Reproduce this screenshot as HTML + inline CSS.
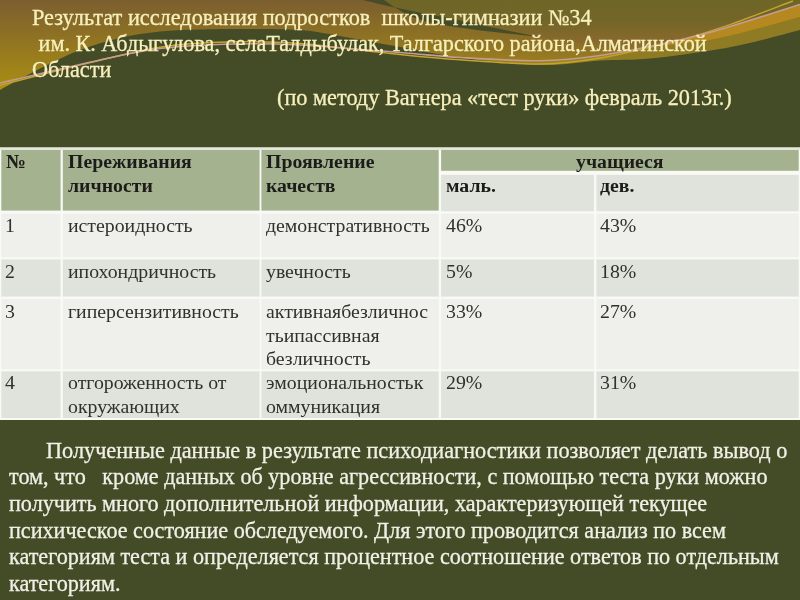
<!DOCTYPE html>
<html><head><meta charset="utf-8">
<style>
html,body{margin:0;padding:0;}
body{width:800px;height:600px;overflow:hidden;position:relative;background:#444b27;font-family:"Liberation Serif",serif;}
svg.bg{position:absolute;left:0;top:0;}
.t{position:absolute;white-space:pre;line-height:1;will-change:transform;}
.title{color:#f7f0bc;font-size:22.25px;-webkit-text-stroke:0.3px #f7f0bc;}
.para{color:#f0f0e6;font-size:22.15px;-webkit-text-stroke:0.3px #f0f0e6;}
.cell{position:absolute;}
.tx{position:absolute;white-space:pre;font-size:19.8px;line-height:1;color:#30302d;will-change:transform;}
.b{font-weight:bold;color:#1c1c1a;}
</style></head>
<body>
<svg class="bg" width="800" height="600" viewBox="0 0 800 600">
<defs>
<linearGradient id="gL" x1="0" y1="0" x2="0" y2="90" gradientUnits="userSpaceOnUse">
<stop offset="0" stop-color="#7b5e2f"/>
<stop offset="1" stop-color="#aa8f12"/>
</linearGradient>
<linearGradient id="gR" x1="0" y1="0" x2="0" y2="65" gradientUnits="userSpaceOnUse">
<stop offset="0" stop-color="#6e6628"/>
<stop offset="0.32" stop-color="#736528"/>
<stop offset="0.62" stop-color="#88692c"/>
<stop offset="0.8" stop-color="#90722a"/>
<stop offset="1" stop-color="#9c8020"/>
</linearGradient>
<linearGradient id="fade" x1="420" y1="0" x2="680" y2="0" gradientUnits="userSpaceOnUse">
<stop offset="0" stop-color="#fff"/>
<stop offset="1" stop-color="#000"/>
</linearGradient>
<mask id="m1"><rect x="0" y="0" width="800" height="120" fill="url(#fade)"/></mask>
</defs>
<rect x="0" y="0" width="800" height="120" fill="url(#gR)"/>
<path d="M0,0 L371,0 C400,12 470,28 545,38 C600,46 650,55 700,62 L700,120 L0,120 Z" fill="url(#gL)" mask="url(#m1)"/>
<path d="M363,0 L384,0 C400,12 415,19 430,22.7 C460,28 495,32.5 540,37 C500,30 470,22 430,14.6 C400,9 380,4 363,0 Z" fill="#454c27"/>
<path d="M540,60.8 C550.0,59.9 576.7,59.0 600,55.5 C623.3,52.0 658.3,44.8 680,40 C701.7,35.2 710.0,32.4 730,26.5 C750.0,20.6 788.3,8.1 800,4.4 L800,30 C793.3,31.8 773.3,37.3 760,40.5 C746.7,43.7 738.3,46.0 720,49 C701.7,52.0 670.0,56.6 650,58.5 C630.0,60.4 618.3,59.4 600,60.5 C581.7,61.6 550.0,64.2 540,65 Z" fill="#9a8222"/>
<path d="M655,46.5 C659.2,45.4 667.5,43.3 680,40 C692.5,36.7 710.0,32.4 730,26.5 C750.0,20.6 788.3,8.1 800,4.4 L800,17 C793.3,18.8 775.0,24.2 760,28 C745.0,31.8 727.5,36.9 710,40 C692.5,43.1 664.2,45.4 655,46.5 Z" fill="#b5891f"/>
<path d="M655,46.5 C664.2,45.4 692.5,43.1 710,40 C727.5,36.9 745.0,31.8 760,28 C775.0,24.2 793.3,18.8 800,17 L800,30 C793.3,31.8 773.3,37.3 760,40.5 C746.7,43.7 738.3,46.0 720,49 C701.7,52.0 670.0,56.6 650,58.5 C630.0,60.4 608.3,60.2 600,60.5 Z" fill="#8e7b23"/>
<path d="M0,90 C6.7,86.4 26.7,75.3 40,68.6 C53.3,61.9 66.7,55.1 80,50 C93.3,44.9 106.7,41.1 120,38 C133.3,34.9 146.7,32.9 160,31.5 C173.3,30.1 186.7,29.9 200,29.5 C213.3,29.1 223.3,28.9 240,29 C256.7,29.1 283.3,28.8 300,30 C316.7,31.2 323.3,33.2 340,36 C356.7,38.8 380.0,43.4 400,47 C420.0,50.6 436.7,54.5 460,57.5 C483.3,60.5 516.7,64.5 540,65 C563.3,65.5 581.7,61.6 600,60.5 C618.3,59.4 630.0,60.4 650,58.5 C670.0,56.6 701.7,52.0 720,49 C738.3,46.0 746.7,43.7 760,40.5 C773.3,37.3 793.3,31.8 800,30 L800,600 L0,600 Z" fill="#444b27"/>
<path d="M0,85.5 C10.0,82.9 33.3,76.4 60,70 C86.7,63.6 130.8,51.9 160,47.2 C189.2,42.5 211.7,42.4 235,41.8 C258.3,41.2 282.5,42.5 300,43.5 C317.5,44.5 323.3,46.0 340,47.8 C356.7,49.6 380.0,52.5 400,54.5 C420.0,56.5 436.7,58.2 460,59.8 C483.3,61.4 516.7,64.3 540,64 C563.3,63.7 575.8,62.2 600,58 C624.2,53.8 663.3,44.2 685,38.6 C706.7,33.0 712.0,30.9 730,24.6 C748.0,18.3 782.5,4.9 793,1" fill="none" stroke="#c4a42a" stroke-width="1.4"/>
<path d="M0,83 C16.7,79.2 73.3,65.8 100,60 C126.7,54.2 137.5,51.2 160,48.5 C182.5,45.8 211.7,44.6 235,44 C258.3,43.4 272.5,43.6 300,45 C327.5,46.4 373.3,50.4 400,52.5 C426.7,54.6 436.7,56.1 460,57.5 C483.3,58.9 516.7,61.1 540,60.8 C563.3,60.5 576.7,59.0 600,55.5 C623.3,52.0 658.3,44.8 680,40 C701.7,35.2 710.0,32.4 730,26.5 C750.0,20.6 788.3,8.1 800,4.4" fill="none" stroke="#c59c94" stroke-width="1.6"/>
</svg>

<div class="t title" style="left:32px;top:6.6px;font-size:22.3px;">Результат исследования подростков  школы-гимназии №34</div>
<div class="t title" style="left:32.5px;top:32.7px;font-size:22.17px;"> им. К. Абдыгулова, селаТалдыбулак, Талгарского района,Алматинской</div>
<div class="t title" style="left:32px;top:58.75px;">Области</div>
<div class="t title" style="left:276.5px;top:86.5px;">(по методу Вагнера «тест руки» февраль 2013г.)</div>

<!-- table -->
<svg class="bg" width="800" height="600" viewBox="0 0 800 600">
<rect x="0" y="147.5" width="800" height="272.5" fill="#f9faf6"/>
<rect x="0" y="147.5" width="800" height="2.5" fill="#e4e8da"/>
<rect x="1.3" y="150" width="59.3" height="60.6" fill="#a5b28f"/>
<rect x="62.8" y="150" width="196.8" height="60.6" fill="#a5b28f"/>
<rect x="261.4" y="150" width="177.3" height="60.6" fill="#a5b28f"/>
<rect x="441.1" y="150" width="357.6" height="20.8" fill="#a5b28f"/>
<rect x="441.1" y="174.8" width="152.8" height="36.5" fill="#dfe3db"/>
<rect x="596.4" y="174.8" width="202.3" height="36.5" fill="#dfe3db"/>
<rect x="1.3" y="213.6" width="59.3" height="43.7" fill="#eff0ec"/>
<rect x="62.8" y="213.6" width="196.8" height="43.7" fill="#eff0ec"/>
<rect x="261.4" y="213.6" width="177.3" height="43.7" fill="#eff0ec"/>
<rect x="441.1" y="213.6" width="152.8" height="43.7" fill="#eff0ec"/>
<rect x="596.4" y="213.6" width="202.3" height="43.7" fill="#eff0ec"/>
<rect x="1.3" y="259.4" width="59.3" height="37.2" fill="#dfe3db"/>
<rect x="62.8" y="259.4" width="196.8" height="37.2" fill="#dfe3db"/>
<rect x="261.4" y="259.4" width="177.3" height="37.2" fill="#dfe3db"/>
<rect x="441.1" y="259.4" width="152.8" height="37.2" fill="#dfe3db"/>
<rect x="596.4" y="259.4" width="202.3" height="37.2" fill="#dfe3db"/>
<rect x="1.3" y="299" width="59.3" height="70.3" fill="#eff0ec"/>
<rect x="62.8" y="299" width="196.8" height="70.3" fill="#eff0ec"/>
<rect x="261.4" y="299" width="177.3" height="70.3" fill="#eff0ec"/>
<rect x="441.1" y="299" width="152.8" height="70.3" fill="#eff0ec"/>
<rect x="596.4" y="299" width="202.3" height="70.3" fill="#eff0ec"/>
<rect x="1.3" y="371.3" width="59.3" height="46.7" fill="#dfe3db"/>
<rect x="62.8" y="371.3" width="196.8" height="46.7" fill="#dfe3db"/>
<rect x="261.4" y="371.3" width="177.3" height="46.7" fill="#dfe3db"/>
<rect x="441.1" y="371.3" width="152.8" height="46.7" fill="#dfe3db"/>
<rect x="596.4" y="371.3" width="202.3" height="46.7" fill="#dfe3db"/>
</svg>
<!-- table text: baseline = top + ~17.6 (ascent .891*19.8) -->
<div class="tx b" style="left:5.7px;top:151.5px;">№</div>
<div class="tx b" style="left:67.8px;top:151.5px;">Переживания</div>
<div class="tx b" style="left:67.8px;top:175.5px;">личности</div>
<div class="tx b" style="left:266.3px;top:151.5px;">Проявление</div>
<div class="tx b" style="left:266.3px;top:175.5px;">качеств</div>
<div class="tx b" style="left:576px;top:151.5px;">учащиеся</div>
<div class="tx b" style="left:446.3px;top:175.5px;">маль.</div>
<div class="tx b" style="left:600.3px;top:175.5px;">дев.</div>

<div class="tx" style="left:5.3px;top:216px;">1</div>
<div class="tx" style="left:67.8px;top:216px;">истероидность</div>
<div class="tx" style="left:266.3px;top:216px;">демонстративность</div>
<div class="tx" style="left:446.3px;top:216px;">46%</div>
<div class="tx" style="left:600.3px;top:216px;">43%</div>

<div class="tx" style="left:5.3px;top:262px;">2</div>
<div class="tx" style="left:67.8px;top:262px;">ипохондричность</div>
<div class="tx" style="left:266.3px;top:262px;">увечность</div>
<div class="tx" style="left:446.3px;top:262px;">5%</div>
<div class="tx" style="left:600.3px;top:262px;">18%</div>

<div class="tx" style="left:5.3px;top:302px;">3</div>
<div class="tx" style="left:67.8px;top:302px;">гиперсензитивность</div>
<div class="tx" style="left:266.3px;top:302px;">активнаябезличнос</div>
<div class="tx" style="left:266.3px;top:325.5px;">тьипассивная</div>
<div class="tx" style="left:266.3px;top:349px;">безличность</div>
<div class="tx" style="left:446.3px;top:302px;">33%</div>
<div class="tx" style="left:600.3px;top:302px;">27%</div>

<div class="tx" style="left:5.3px;top:373px;">4</div>
<div class="tx" style="left:67.8px;top:373px;">отгороженность от</div>
<div class="tx" style="left:67.8px;top:396.5px;">окружающих</div>
<div class="tx" style="left:266.3px;top:373px;">эмоциональностьк</div>
<div class="tx" style="left:266.3px;top:396.5px;">оммуникация</div>
<div class="tx" style="left:446.3px;top:373px;">29%</div>
<div class="tx" style="left:600.3px;top:373px;">31%</div>

<!-- paragraph -->
<div class="t para" style="left:46.3px;top:439.5px;font-size:22.25px;">Полученные данные в результате психодиагностики позволяет делать вывод о</div>
<div class="t para" style="left:8.8px;top:466px;">том, что   кроме данных об уровне агрессивности, с помощью теста руки можно</div>
<div class="t para" style="left:8.8px;top:492.6px;">получить много дополнительной информации, характеризующей текущее</div>
<div class="t para" style="left:8.8px;top:519.7px;">психическое состояние обследуемого. Для этого проводится анализ по всем</div>
<div class="t para" style="left:8.8px;top:546.2px;">категориям теста и определяется процентное соотношение ответов по отдельным</div>
<div class="t para" style="left:8.8px;top:572.8px;">категориям.</div>
</body></html>
